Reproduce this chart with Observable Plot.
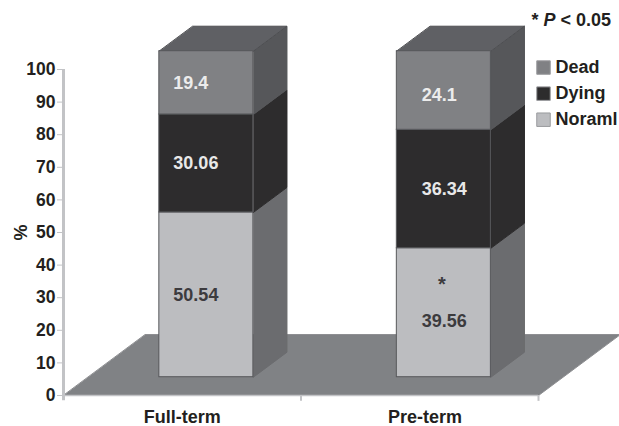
<!DOCTYPE html>
<html>
<head>
<meta charset="utf-8">
<script src="https://cdn.jsdelivr.net/npm/d3@7"></script>
<script src="https://cdn.jsdelivr.net/npm/@observablehq/plot@0.6"></script>
<style>
  html, body { margin: 0; padding: 0; background: #fff; }
  svg { display: block; }
</style>
</head>
<body>
<div id="chart"></div>
<script>
// Percentage of cells per group, stacked bottom to top
const groups = ["Full-term", "Pre-term"];
const states = ["Noraml", "Dying", "Dead"];
const normal = [50.54, 39.56];
const dying = [30.06, 36.34];
const dead = [19.4, 24.1];
const valueTicks = [0, 10, 20, 30, 40, 50, 60, 70, 80, 90, 100];
const legendOrder = ["Dead", "Dying", "Noraml"];

const seriesByState = { Noraml: normal, Dying: dying, Dead: dead };
const frontFill = { Noraml: "#bcbdc0", Dying: "#2d2c2d", Dead: "#808184" };
const sideFill = { Noraml: "#6b6c6f", Dying: "#2d2c2d", Dead: "#56575a" };
const labelFill = { Noraml: "#3c3b3e", Dying: "#e8e8e8", Dead: "#ececec" };

// Oblique projection of the floor: depth 0 is the front edge, depth 1 the back edge
const skewX = 0.345;
const skewY = 18.7;
const project = (gx, depth, v) => ({ x: gx + depth * skewX, y: v + depth * skewY });

const barStart = [0.3, 1.3];
const barWidth = 0.396;
const frontDepth = 0.3;
const backDepth = 0.71;
const labelInset = [0.059, 0.105];

// One record per stacked segment
const segments = groups.flatMap((group, i) => {
  let base = 0;
  return states.map(state => {
    const value = seriesByState[state][i];
    const seg = { group, i, state, value, y0: base, y1: base + value };
    base += value;
    return seg;
  });
});

// Builds closed polygons for the floor and the side and top faces
const polygon = (id, fill, stroke, corners) =>
  corners.map(([gx, depth, v]) => ({ id, fill, stroke, ...project(gx, depth, v) }));

const floor = polygon("floor", "#808285", "#8d8e91", [[0, 0, 0], [2, 0, 0], [2, 1, 0], [0, 1, 0]]);

const sides = segments.flatMap(s => {
  const xr = barStart[s.i] + barWidth;
  return polygon(`side-${s.group}-${s.state}`, sideFill[s.state], sideFill[s.state], [
    [xr, frontDepth, s.y0], [xr, backDepth, s.y0], [xr, backDepth, s.y1], [xr, frontDepth, s.y1]
  ]);
});

const tops = groups.flatMap((group, i) => {
  const xl = barStart[i], xr = xl + barWidth;
  return polygon(`top-${group}`, "#5f6064", "#4e4f52", [
    [xl, frontDepth, 100], [xr, frontDepth, 100], [xr, backDepth, 100], [xl, backDepth, 100]
  ]);
});

const faces = (data, strokeWidth = 1) => Plot.line(data, {
  x: "x", y: "y", z: "id",
  fill: d => d.fill, stroke: d => d.stroke, strokeWidth,
  curve: "linear-closed"
});

const liftedY = v => project(0, frontDepth, v).y;
const frontX = (i, gx) => project(gx, frontDepth, 0).x;

const labelPos = s => ({
  x: frontX(s.i, barStart[s.i] + labelInset[s.i]),
  y: liftedY((s.y0 + s.y1) / 2)
});
const isLowered = s => s.group === "Pre-term" && s.state !== "Dying";
const labelMark = (data, dy) => Plot.text(data, {
  x: d => labelPos(d).x, y: d => labelPos(d).y,
  text: d => String(d.value), fill: d => labelFill[d.state],
  textAnchor: "start", fontSize: 18, fontWeight: "bold", dy
});

const axisColor = "#c2c3c6";
const inkColor = "#231f20";

const plot = Plot.plot({
  width: 619,
  height: 426,
  marginLeft: 63,
  marginRight: 81,
  marginTop: 69,
  marginBottom: 31,
  style: { fontFamily: "'Liberation Sans', Arial, sans-serif", background: "#fff", overflow: "visible" },
  x: { type: "linear", domain: [0, 2], axis: null },
  y: { type: "linear", domain: [0, 100], axis: null },
  marks: [
    faces(floor),

    // Value axis, with the rule running just past the baseline
    Plot.ruleX([0], { y1: -1.6, y2: 100, stroke: axisColor, strokeWidth: 3 }),
    Plot.axisY({
      ticks: valueTicks, tickSize: 6, tickPadding: 2, label: null,
      stroke: axisColor, fill: inkColor, fontSize: 17.5, fontWeight: "bold"
    }),
    Plot.text(["%"], {
      x: 0, y: 50, dx: -42, rotate: -90,
      fill: inkColor, fontSize: 18, fontWeight: "bold"
    }),

    // Category axis: separators at the band edges, names in the band middles
    Plot.ruleY([0], { stroke: axisColor, strokeWidth: 1.5 }),
    Plot.ruleX([1, 2], { y1: -1.8, y2: 0, stroke: axisColor, strokeWidth: 2 }),
    Plot.text(groups, {
      x: (d, i) => i + 0.5 + i * 0.022, y: 0, dy: 22,
      fill: inkColor, fontSize: 18, fontWeight: "bold"
    }),

    // Stacked prisms
    faces(sides),
    faces(tops),
    Plot.rect(segments, {
      x1: d => frontX(d.i, barStart[d.i]),
      x2: d => frontX(d.i, barStart[d.i] + barWidth),
      y1: d => liftedY(d.y0),
      y2: d => liftedY(d.y1),
      fill: d => frontFill[d.state],
      stroke: "#57585b", strokeWidth: 1
    }),

    labelMark(segments.filter(s => !isLowered(s)), 0),
    labelMark(segments.filter(s => isLowered(s) && s.state === "Dead"), 5),
    labelMark(segments.filter(s => isLowered(s) && s.state === "Noraml"), 9),
    Plot.text(["*"], {
      x: frontX(1, barStart[1] + barWidth / 2), y: liftedY(normal[1] / 2), dx: -2, dy: -28,
      fill: "#3c3b3e", fontSize: 20, fontWeight: "bold", lineAnchor: "middle"
    }),

    // Significance note
    Plot.text(["* P < 0.05"], {
      x: 2, y: 100, dx: -7, dy: -49, textAnchor: "start",
      fill: inkColor, fontSize: 18, fontWeight: "bold", className: "note"
    }),

    // Legend
    Plot.dot(legendOrder, {
      x: 2, y: (d, i) => 100.6 - i * 8, dx: 5,
      symbol: "square", r: 7.6,
      fill: d => frontFill[d], stroke: "#9a9b9e", strokeWidth: 1
    }),
    Plot.text(legendOrder, {
      x: 2, y: (d, i) => 100.6 - i * 8, dx: 17, textAnchor: "start",
      fill: inkColor, fontSize: 18, fontWeight: "bold"
    })
  ]
});

// Sets the P of the significance note in italics
d3.select(plot).selectAll(".note text").each(function () {
  const t = d3.select(this).text("");
  t.append("tspan").text("* ");
  t.append("tspan").attr("font-style", "italic").text("P");
  t.append("tspan").text(" < 0.05");
});

document.getElementById("chart").appendChild(plot);
</script>
</body>
</html>
